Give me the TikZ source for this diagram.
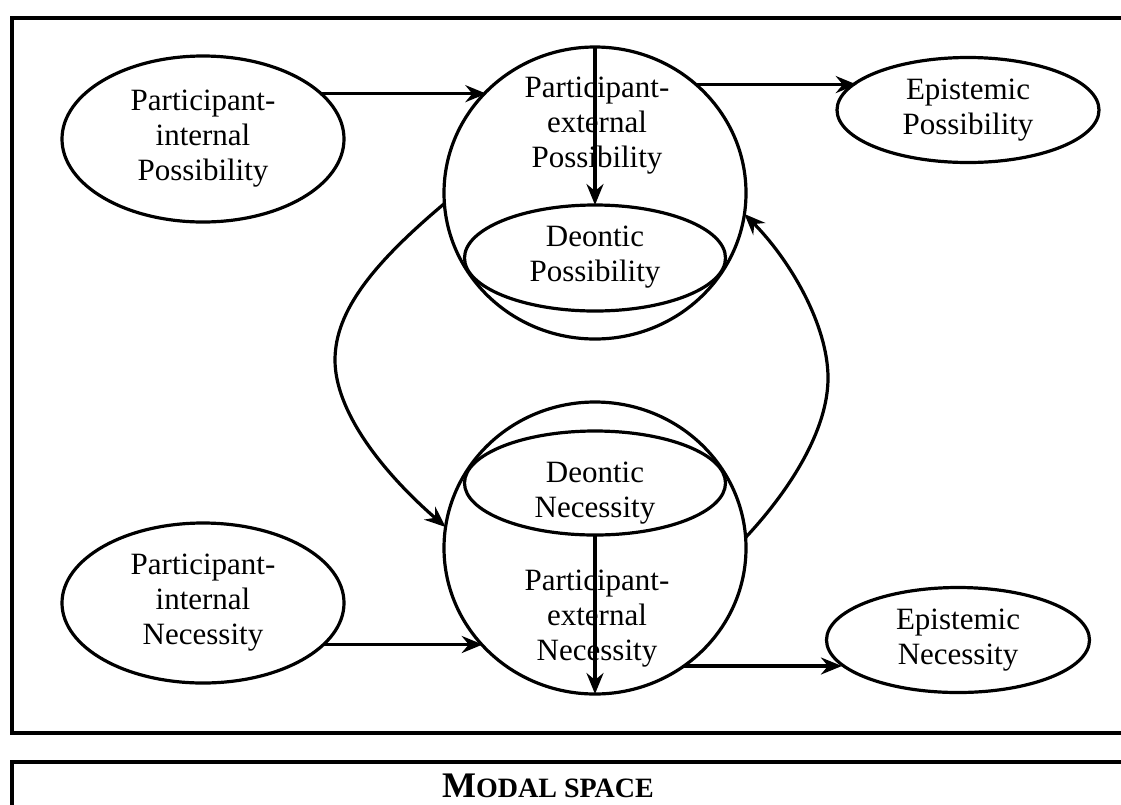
\documentclass[tikz,border=0pt]{standalone}
\usepackage{fontspec}
\setmainfont{Liberation Serif}
\usetikzlibrary{shapes.geometric,arrows.meta}
\begin{document}
\begin{tikzpicture}[x=1pt,y=-1pt,
  every node/.style={font=\fontsize{31}{35}\selectfont, align=center, inner sep=0pt, outer sep=0pt},
  oval/.style={draw, ellipse, line width=3.2pt},
  arr/.style={line width=3.2pt, -{Stealth[length=21pt,width=17pt,inset=7pt]}},
  frame/.style={line width=3.2pt}]
\useasboundingbox (0,0) rectangle (1121,804);
\begin{scope}
  \clip (0,0) rectangle (1121,804);
  \draw[frame] (12,18) rectangle (1150,733);
  \draw[frame] (12,762) rectangle (1150,840);
\end{scope}

% left ellipses
\node[oval, minimum width=282pt, minimum height=166pt] (pip) at (203,139) {Participant-\\internal\\Possibility};
\node[oval, minimum width=282pt, minimum height=160pt] (pin) at (203,603) {Participant-\\internal\\Necessity};

% circles
\node[oval, minimum width=302pt, minimum height=292pt] (tc) at (595,193) {};
\node[oval, minimum width=302pt, minimum height=292pt] (bc) at (595,548) {};
\node (tctext) at (597,126) {Participant-\\external\\Possibility};
\node (bctext) at (597,619) {Participant-\\external\\Necessity};

% deontic ellipses
\node[oval, minimum width=261pt, minimum height=106pt] (dp) at (595,258) {};
\node (dptext) at (595,257) {Deontic\\Possibility};
\node[oval, minimum width=261pt, minimum height=104pt] (dn) at (595,483) {};
\node (dntext) at (595,493) {Deontic\\Necessity};

% epistemic ellipses
\node[oval, minimum width=262pt, minimum height=105pt] (ep) at (968,110) {Epistemic\\Possibility};
\node[oval, minimum width=263pt, minimum height=105pt] (en) at (958,640) {Epistemic\\Necessity};

% title
\node[anchor=base] (title) at (548,797) {\bfseries{\fontsize{36}{36}\selectfont M}{\fontsize{28}{28}\selectfont ODAL SPACE}};

% arrows
\draw[arr] (pip.21.4) -- (tc.137.7 |- pip.21.4);
\draw[arr] (tc.47.9) -- (ep.166.5 |- tc.47.9);
\draw[arr] (pin.-19.9) -- (bc.221.2 |- pin.-19.9);
\draw[arr] (bc.-53) -- (en.192.8 |- bc.-53);
\draw[arr] (tc.north) -- (dp.north);
\draw[arr] (dn.south) -- (bc.south);
\draw[arr] (tc.184) .. controls (375,262) and (335,310) .. (335,360)
                    .. controls (335,410) and (380,470) .. (bc.172);
\draw[arr] (bc.4) .. controls (790,490) and (828,430) .. (828,378)
                  .. controls (828,325) and (790,260) .. (tc.-8);
\end{tikzpicture}
\end{document}
